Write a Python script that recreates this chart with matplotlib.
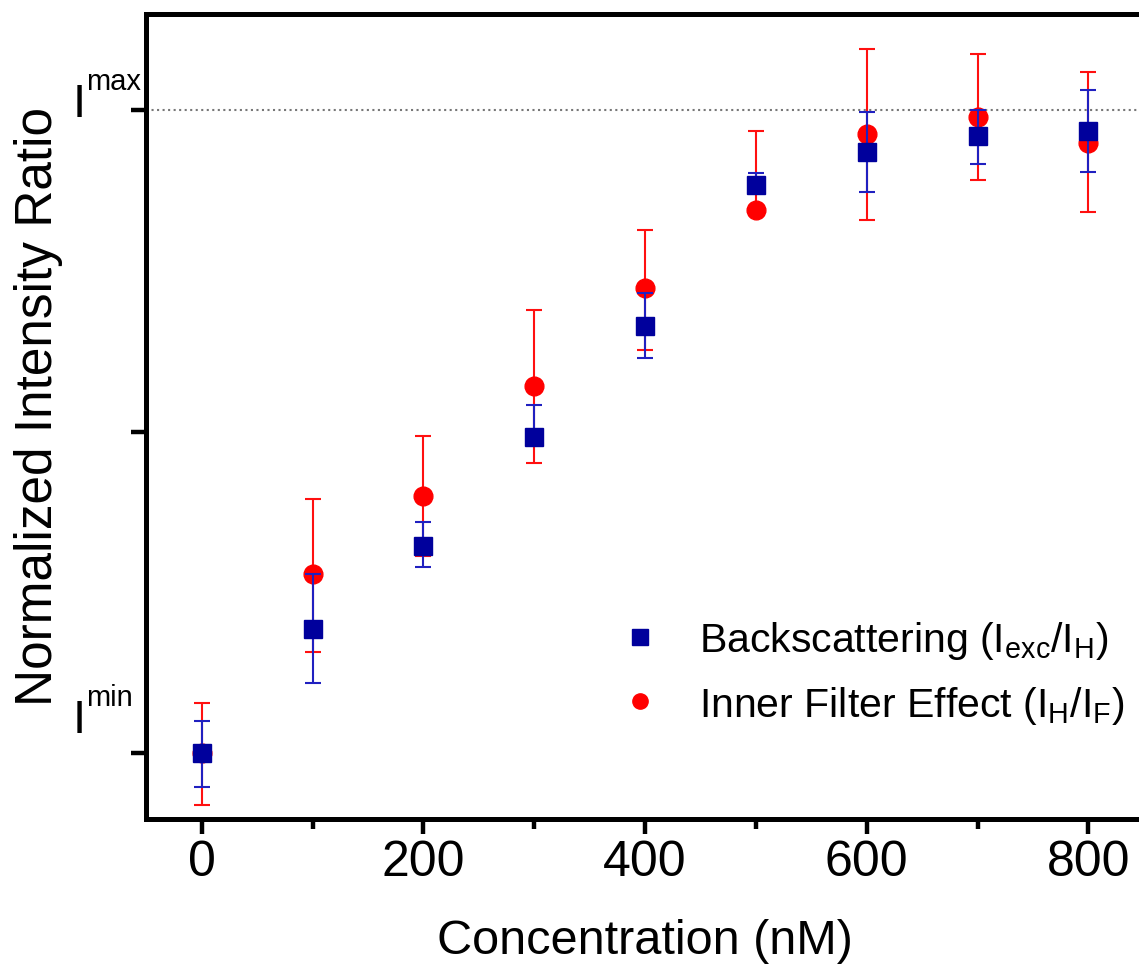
import matplotlib.pyplot as plt
from matplotlib import transforms
from matplotlib.lines import Line2D

plt.rcParams['font.family'] = ['Liberation Sans', 'DejaVu Sans']
plt.rcParams['mathtext.fontset'] = 'custom'
plt.rcParams['mathtext.rm'] = 'Liberation Sans'
plt.rcParams['mathtext.it'] = 'Liberation Sans'
plt.rcParams['mathtext.default'] = 'regular'

conc = [0, 100, 200, 300, 400, 500, 600, 700, 800]

# backscattering (Iexc/IH), normalised between Imin (0) and Imax (1)
back = [0.0, 0.194, 0.323, 0.491, 0.664, 0.883, 0.935, 0.960, 0.967]
back_lo = [0.053, 0.085, 0.033, 0.0, 0.050, 0.0, 0.062, 0.044, 0.064]
back_up = [0.050, 0.084, 0.036, 0.051, 0.051, 0.019, 0.062, 0.040, 0.064]

# inner filter effect (IH/IF)
ife = [0.0, 0.278, 0.400, 0.571, 0.723, 0.844, 0.963, 0.989, 0.949]
ife_lo = [0.081, 0.120, 0.093, 0.120, 0.096, 0.0, 0.134, 0.098, 0.107]
ife_up = [0.078, 0.118, 0.093, 0.118, 0.090, 0.123, 0.131, 0.098, 0.110]

labels = ['Backscattering (I$_{exc}$/I$_H$)', 'Inner Filter Effect (I$_H$/I$_F$)']
ylevels = [0, 0.5, 1]
ylev_names = ['min', '', 'max']

fig = plt.figure(figsize=(11.39, 9.78), dpi=100)
ax = fig.add_axes([146.3 / 1139, 158 / 978, 997.6 / 1139, 805 / 978])

ax.axhline(1.0, color='#777777', linestyle=':', linewidth=1.5, zorder=1)

ax.errorbar(conc, ife, yerr=[ife_lo, ife_up], fmt='o', color='#ff0000',
            ecolor='#ff1010', markersize=13.5, elinewidth=1.5, capsize=6,
            capthick=1.5, zorder=3)
ax.errorbar(conc, back, yerr=[back_lo, back_up], fmt='s', color='#00009c',
            ecolor='#2020c0', markersize=12.5, elinewidth=1.5, capsize=6,
            capthick=1.5, zorder=4)

ax.set_xlim(-50, 850)
ax.set_ylim(-0.102, 1.149)
ax.set_xticks([0, 200, 400, 600, 800])
ax.set_xticks([100, 300, 500, 700], minor=True)
ax.set_yticks(ylevels)
ax.set_yticklabels(['' for _ in ylevels])

for s in ax.spines.values():
    s.set_linewidth(3.6)
ax.tick_params(which='major', direction='out', length=11, width=3.2,
               labelsize=36, pad=3.5)
ax.tick_params(which='minor', direction='out', length=7, width=3.2)

# I^max / I^min labels next to the y ticks
tr = transforms.blended_transform_factory(ax.transAxes, ax.transData)
base = {'max': 0.9907, 'min': 0.033}
for name in ylev_names:
    if not name:
        continue
    ax.text(-0.074, base[name], 'I', transform=tr, ha='left',
            va='baseline', fontsize=34)
    sup = transforms.offset_copy(tr, fig=fig, x=0, y=27, units='dots')
    ax.text(-0.0605, base[name], name, transform=sup, ha='left',
            va='baseline', fontsize=21)

ax.set_xlabel('Concentration (nM)', fontsize=35, labelpad=24)
ax.set_ylabel('Normalized Intensity Ratio', fontsize=37)
ax.yaxis.set_label_coords(-0.0835, 0.514)

handles = [Line2D([], [], linestyle='none', marker='s', markersize=12,
                  color='#00009c'),
           Line2D([], [], linestyle='none', marker='o', markersize=11,
                  color='#ff0000')]
ax.legend(handles, labels, loc='center left', bbox_to_anchor=(0.474, 0.182),
          frameon=False, fontsize=29.5, handlelength=1.0, handletextpad=0.95,
          borderpad=0, borderaxespad=0, labelspacing=0.55)

plt.savefig('out.png', dpi=100)
